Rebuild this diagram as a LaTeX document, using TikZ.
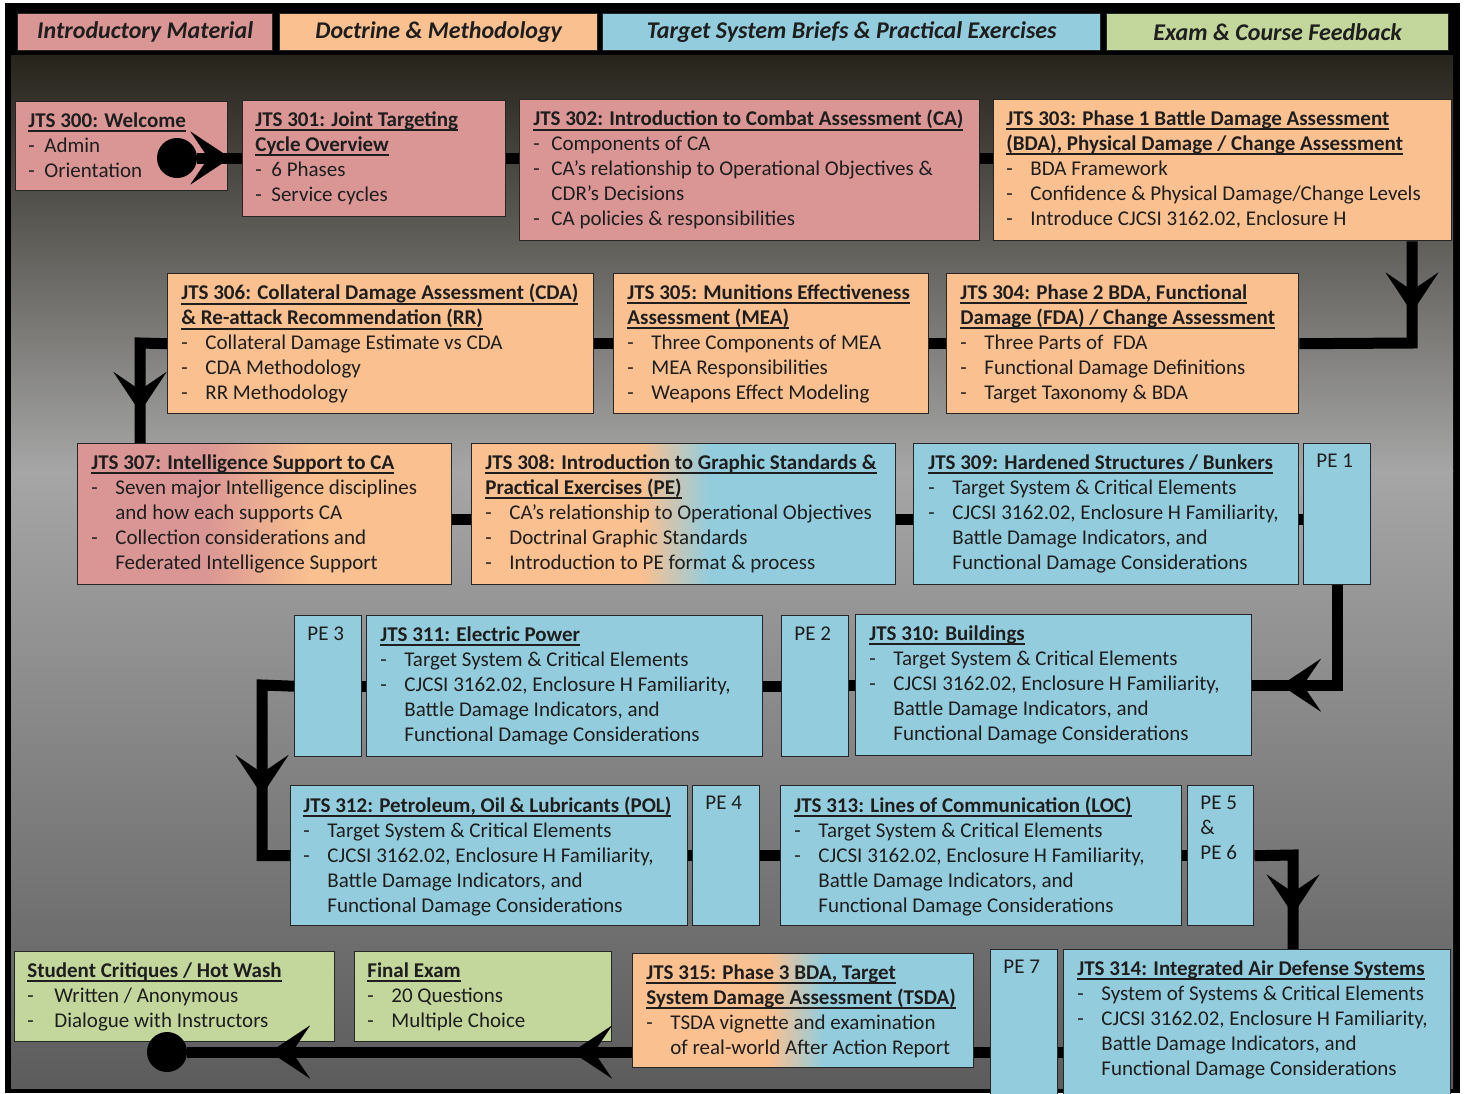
\documentclass[tikz,border=0pt]{standalone}
\usepackage{fontspec}
\setmainfont{Carlito}
\usetikzlibrary{arrows.meta,decorations.markings,calc}
\definecolor{pinkc}{HTML}{D99694}
\definecolor{orangec}{HTML}{FAC090}
\definecolor{bluec}{HTML}{93CDDD}
\definecolor{greenc}{HTML}{C3D69B}
\definecolor{topc}{HTML}{26241B}
\definecolor{midc}{HTML}{A6A6A6}
\definecolor{botc}{HTML}{5C5C5C}
\definecolor{inkc}{HTML}{1E1E1E}
\pgfdeclarehorizontalshading{shpo}{100bp}{color(0bp)=(pinkc); color(42bp)=(pinkc); color(56bp)=(orangec); color(100bp)=(orangec)}
\pgfdeclarehorizontalshading{shob}{100bp}{color(0bp)=(orangec); color(45bp)=(orangec); color(53bp)=(bluec); color(100bp)=(bluec)}
\newcommand\ulin[1]{\leavevmode\setbox0\hbox{#1}\rlap{\rule[-2.3pt]{\wd0}{0.75pt}}\box0}
\newcommand\ttl[1]{\ulin{\bfseries #1}}
\newcommand\itm[2][12pt]{\makebox[#1][l]{-}#2}
\newcommand\cnt[2][12pt]{\hspace*{#1}#2}
\newcommand\tslist{\itm{Target System \& Critical Elements}\\ \itm{CJCSI 3162.02, Enclosure H Familiarity,}\\ \cnt{Battle Damage Indicators, and}\\ \cnt{Functional Damage Considerations}}
\tikzset{
 box/.style={draw=black!85, line width=0.7pt, inner sep=0pt, anchor=north west},
 sz/.style 2 args={minimum width=#1*0.5pt, minimum height=#2*0.5pt},
 txt/.style={anchor=north west, inner sep=0pt, align=left, text=inkc, font=\fontsize{10.5}{12.5}\selectfont},
 hdr/.style={box, font=\fontsize{12}{14}\selectfont\bfseries\itshape, text=inkc},
 flow/.style={line width=5.5pt, draw=black},
 dot/.style={circle, fill=black, inner sep=0pt, minimum size=20pt},
 BigTip/.tip={Stealth[length=20pt,width=26.5pt,inset=9pt,line width=0.1pt]},
 arr/.style={postaction={decorate}, decoration={markings, mark=at position #1 with {\arrow{BigTip}}}},
 arrtwo/.style 2 args={postaction={decorate}, decoration={markings, mark=at position #1 with {\arrow{BigTip}}, mark=at position #2 with {\arrow{BigTip}}}},
}
\begin{document}
\begin{tikzpicture}[x=0.5pt,y=-0.5pt]
\useasboundingbox (0,0) rectangle (1466,1093);
% frame and background
\fill[black] (5,3) rectangle (1460,1093);
\shade[top color=topc, bottom color=midc] (11,55) rectangle (1453,471);
\shade[top color=midc, bottom color=botc] (11,470) rectangle (1453,1088);
% headers
\node[hdr, fill=pinkc, sz={255}{37}] (h1) at (17,13) {Introductory Material};
\node[hdr, fill=orangec, sz={318}{37}] (h2) at (279,13) {Doctrine \& Methodology};
\node[hdr, fill=bluec, sz={498}{37}] (h3) at (602,13) {Target System Briefs \& Practical Exercises};
\node[hdr, fill=greenc, sz={342}{37}] (h4) at (1106,13) {Exam \& Course Feedback};
% boxes
\node[box, fill=pinkc, sz={212}{89}] (b300) at (15,101) {};
\node[box, fill=pinkc, sz={263}{116}] (b301) at (242,100) {};
\node[box, fill=pinkc, sz={460}{141}] (b302) at (519,99) {};
\node[box, fill=orangec, sz={458}{141}] (b303) at (993,99) {};
\node[box, fill=orangec, sz={426}{140}] (b306) at (167,273) {};
\node[box, fill=orangec, sz={315}{140}] (b305) at (613,273) {};
\node[box, fill=orangec, sz={352}{140}] (b304) at (946,273) {};
\node[box, shade, shading=shpo, sz={374}{141}] (b307) at (77,443) {};
\node[box, shade, shading=shob, sz={424}{141}] (b308) at (471,443) {};
\node[box, fill=bluec, sz={385}{141}] (b309) at (913,443) {};
\node[box, fill=bluec, sz={67}{141}] (pe1) at (1303,443) {};
\node[box, fill=bluec, sz={67}{141}] (pe3) at (294,615) {};
\node[box, fill=bluec, sz={396}{141}] (b311) at (366,615) {};
\node[box, fill=bluec, sz={67}{141}] (pe2) at (781,615) {};
\node[box, fill=bluec, sz={396}{141}] (b310) at (855,614) {};
\node[box, fill=bluec, sz={397}{140}] (b312) at (290,785) {};
\node[box, fill=bluec, sz={67}{140}] (pe4) at (692,785) {};
\node[box, fill=bluec, sz={401}{140}] (b313) at (780,785) {};
\node[box, fill=bluec, sz={66}{140}] (pe56) at (1187,785) {};
\node[box, fill=greenc, sz={320}{90}] (bsc) at (14,951) {};
\node[box, fill=greenc, sz={257}{90}] (bfe) at (354,951) {};
\node[box, shade, shading=shob, sz={341}{114}] (b315) at (632,953) {};
\node[box, fill=bluec, sz={67}{146}] (pe7) at (990,949) {};
\node[box, fill=bluec, sz={387}{146}] (b314) at (1063,949) {};
% texts
\node[txt] (t300) at ($(b300.north west)+(13,11)$) {\ttl{JTS 300: Welcome}\\ \itm[8pt]{Admin}\\ \itm[8pt]{Orientation}};
\node[txt] (t301) at ($(b301.north west)+(13,11)$) {\ttl{JTS 301: Joint Targeting}\\ \ttl{Cycle Overview}\\ \itm[8pt]{6 Phases}\\ \itm[8pt]{Service cycles}};
\node[txt] (t302) at ($(b302.north west)+(14,11)$) {\ttl{JTS 302: Introduction to Combat Assessment (CA)}\\ \itm[9pt]{Components of CA}\\ \itm[9pt]{CA’s relationship to Operational Objectives \&}\\ \cnt[9pt]{CDR’s Decisions}\\ \itm[9pt]{CA policies \& responsibilities}};
\node[txt] (t303) at ($(b303.north west)+(13,11)$) {\ttl{JTS 303: Phase 1 Battle Damage Assessment}\\ \ttl{(BDA), Physical Damage / Change Assessment}\\ \itm{BDA Framework}\\ \itm{Confidence \& Physical Damage/Change Levels}\\ \itm{Introduce CJCSI 3162.02, Enclosure H}};
\node[txt] (t306) at ($(b306.north west)+(14,11)$) {\ttl{JTS 306: Collateral Damage Assessment (CDA)}\\ \ttl{\& Re-attack Recommendation (RR)}\\ \itm{Collateral Damage Estimate vs CDA}\\ \itm{CDA Methodology}\\ \itm{RR Methodology}};
\node[txt] (t305) at ($(b305.north west)+(14,11)$) {\ttl{JTS 305: Munitions Effectiveness}\\ \ttl{Assessment (MEA)}\\ \itm{Three Components of MEA}\\ \itm{MEA Responsibilities}\\ \itm{Weapons Effect Modeling}};
\node[txt] (t304) at ($(b304.north west)+(14,11)$) {\ttl{JTS 304: Phase 2 BDA, Functional}\\ \ttl{Damage (FDA) / Change Assessment}\\ \itm{Three Parts of\ \ FDA}\\ \itm{Functional Damage Definitions}\\ \itm{Target Taxonomy \& BDA}};
\node[txt] (t307) at ($(b307.north west)+(14,11)$) {\ttl{JTS 307: Intelligence Support to CA}\\ \itm{Seven major Intelligence disciplines}\\ \cnt{and how each supports CA}\\ \itm{Collection considerations and}\\ \cnt{Federated Intelligence Support}};
\node[txt] (t308) at ($(b308.north west)+(14,11)$) {\ttl{JTS 308: Introduction to Graphic Standards \&}\\ \ttl{Practical Exercises (PE)}\\ \itm{CA’s relationship to Operational Objectives}\\ \itm{Doctrinal Graphic Standards}\\ \itm{Introduction to PE format \& process}};
\node[txt] (t309) at ($(b309.north west)+(15,11)$) {\ttl{JTS 309: Hardened Structures / Bunkers}\\ \tslist};
\node[txt] (tpe1) at ($(pe1.north west)+(13,11)$) {PE 1};
\node[txt] (tpe3) at ($(pe3.north west)+(13,11)$) {PE 3};
\node[txt] (t311) at ($(b311.north west)+(14,11)$) {\ttl{JTS 311: Electric Power}\\ \tslist};
\node[txt] (tpe2) at ($(pe2.north west)+(13,11)$) {PE 2};
\node[txt] (t310) at ($(b310.north west)+(14,11)$) {\ttl{JTS 310: Buildings}\\ \tslist};
\node[txt] (t312) at ($(b312.north west)+(13,11)$) {\ttl{JTS 312: Petroleum, Oil \& Lubricants (POL)}\\ \tslist};
\node[txt] (tpe4) at ($(pe4.north west)+(13,11)$) {PE 4};
\node[txt] (t313) at ($(b313.north west)+(14,11)$) {\ttl{JTS 313: Lines of Communication (LOC)}\\ \tslist};
\node[txt] (tpe56) at ($(pe56.north west)+(13,11)$) {PE 5\\ \&\\ PE 6};
\node[txt] (tsc) at ($(bsc.north west)+(13,11)$) {\ttl{Student Critiques / Hot Wash}\\ \itm[13.5pt]{Written / Anonymous}\\ \itm[13.5pt]{Dialogue with Instructors}};
\node[txt] (tfe) at ($(bfe.north west)+(13,11)$) {\ttl{Final Exam}\\ \itm{20 Questions}\\ \itm{Multiple Choice}};
\node[txt] (t315) at ($(b315.north west)+(14,11)$) {\ttl{JTS 315: Phase 3 BDA, Target}\\ \ttl{System Damage Assessment (TSDA)}\\ \itm{TSDA vignette and examination}\\ \cnt{of real-world After Action Report}};
\node[txt] (tpe7) at ($(pe7.north west)+(13,11)$) {PE 7};
\node[txt] (t314) at ($(b314.north west)+(14,11)$) {\ttl{JTS 314: Integrated Air Defense Systems}\\ \itm{System of Systems \& Critical Elements}\\ \itm{CJCSI 3162.02, Enclosure H Familiarity,}\\ \cnt{Battle Damage Indicators, and}\\ \cnt{Functional Damage Considerations}};
% connectors
\node[dot] (c1) at (177,158) {};
\node[dot] (c2) at (167,1052) {};
\coordinate (v1) at (1412,343);
\coordinate (v2) at (140,343);
\coordinate (r3) at (700,519);
\coordinate (v4) at (262,685);
\coordinate (v6) at (1293,855);
\coordinate (r6) at (600,1052);
\draw[flow, arr=16.5pt] (c1) -- (b301.west |- c1);
\draw[flow] (b301.east) -- (b301.east -| b302.west);
\draw[flow] (b302.east |- b301.east) -- (b303.west |- b301.east);
\draw[flow, arr=35.5pt] (b303.south -| v1) -- (v1) -- (b304.east);
\draw[flow] (b304.west) -- (b305.east);
\draw[flow] (b305.west) -- (b306.east);
\draw[flow, arr=48pt] (b306.west) -- (v2) -- (v2 |- b307.north);
\draw[flow] (b307.east |- r3) -- (b308.west |- r3);
\draw[flow] (b308.east |- r3) -- (b309.west |- r3);
\draw[flow] (b309.east |- r3) -- (pe1.west |- r3);
\draw[flow, arr=78pt] (pe1.south) |- (b310.east);
\draw[flow] (b310.west) -- (b310.west -| pe2.east);
\draw[flow] (pe2.west) -- (pe2.west -| b311.east);
\draw[flow] (b311.west) -- (b311.west -| pe3.east);
\draw[flow, arr=71pt] (pe3.west) -- (v4) -- (v4 |- b312.west) -- (b312.west);
\draw[flow] (b312.east) -- (pe4.west);
\draw[flow] (pe4.east) -- (b313.west);
\draw[flow] (b313.east) -- (pe56.west);
\draw[flow, arr=49pt] (pe56.east) -- (v6) -- (v6 |- b314.north);
\draw[flow] (b314.west |- r6) -- (pe7.east |- r6);
\draw[flow] (pe7.west |- r6) -- (b315.east |- r6);
\draw[flow, arrtwo={30pt}{181pt}] (b315.west |- r6) -- (c2);
\end{tikzpicture}
\end{document}
